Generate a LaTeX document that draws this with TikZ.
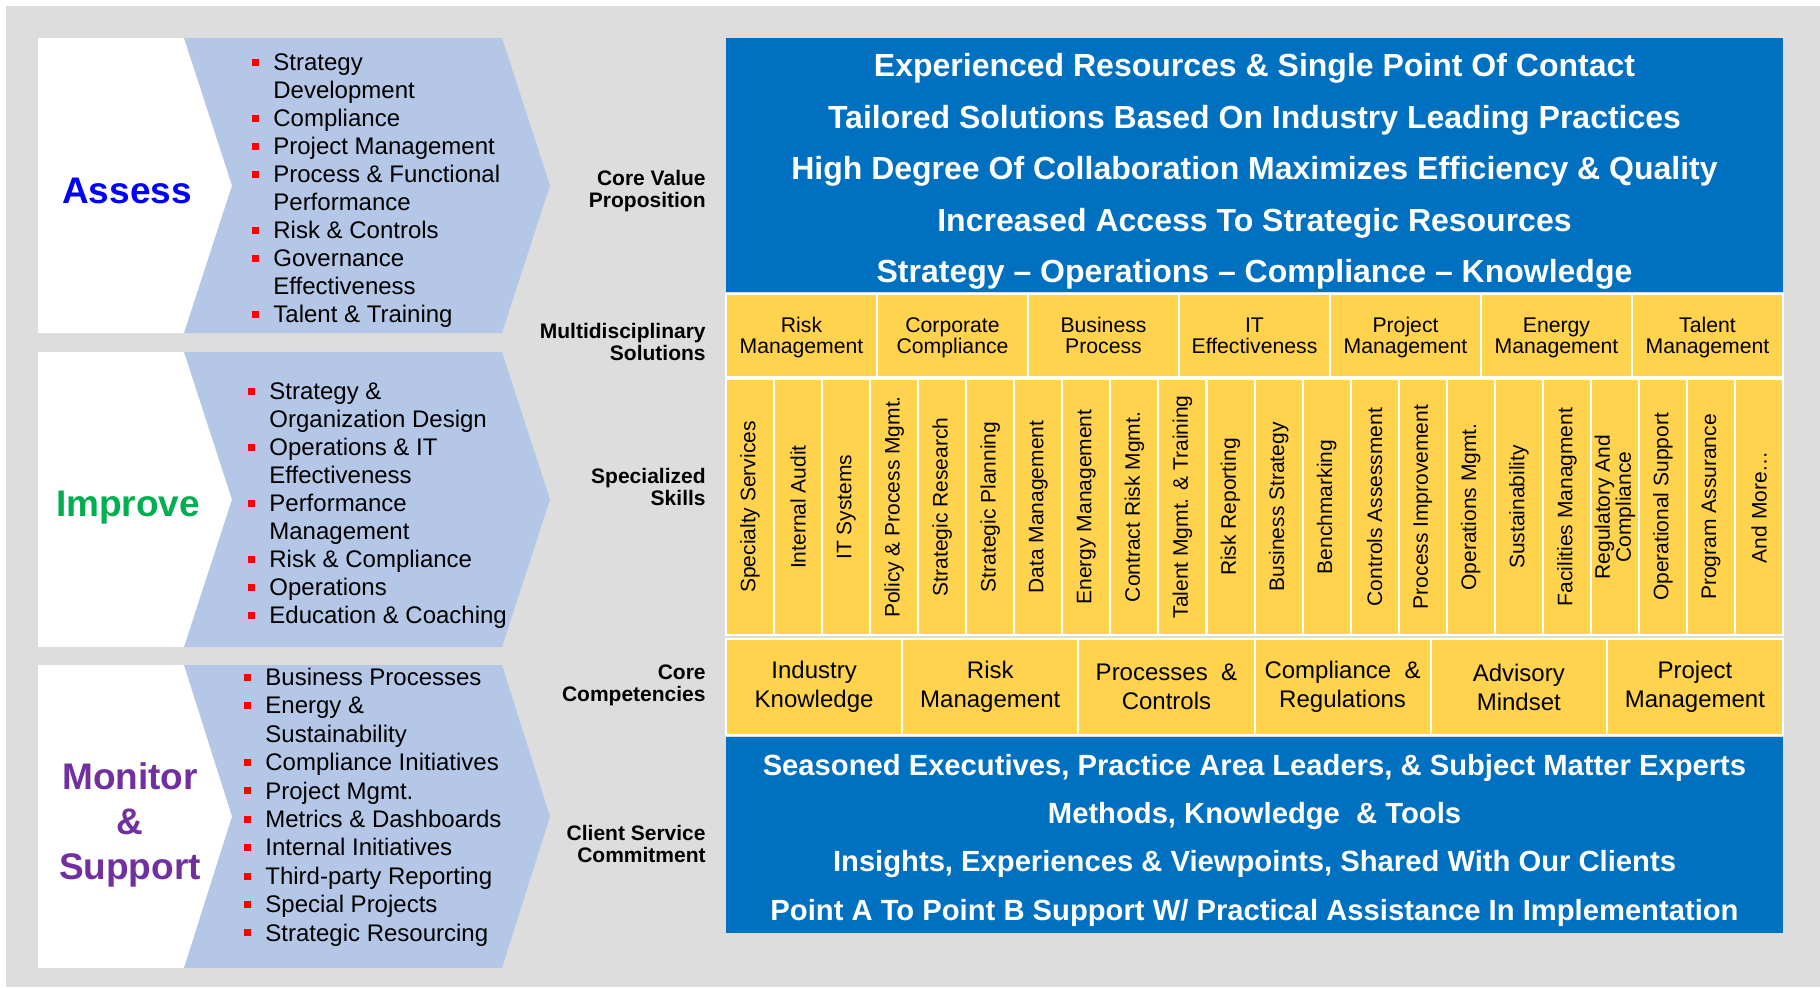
\documentclass[tikz,border=0pt]{standalone}
\usepackage{fontspec}
\setmainfont{Liberation Sans}

\definecolor{bggray}{HTML}{DDDDDD}
\definecolor{chevblue}{HTML}{B4C7E7}
\definecolor{valueblue}{HTML}{0070C0}
\definecolor{cellyellow}{HTML}{FFD34D}
\definecolor{assessblue}{HTML}{0000FF}
\definecolor{improvegreen}{HTML}{00B050}
\definecolor{monitorpurple}{HTML}{7030A0}
\definecolor{bulletred}{HTML}{FF0000}

\newcommand{\bul}{\llap{\textcolor{bulletred}{\rule[2.3pt]{3.5pt}{3.5pt}}\hspace{7pt}}}

\begin{document}
\begin{tikzpicture}[x=0.5pt, y=-0.5pt,
		phase/.style={font=\bfseries\fontsize{18.5pt}{22.5pt}\selectfont, align=center, inner sep=0pt},
		itemlist/.style={anchor=west, align=left, inner sep=0pt, font=\fontsize{12pt}{14pt}\selectfont},
		sidelabel/.style={anchor=east, align=right, inner sep=0pt, font=\bfseries\fontsize{10.5pt}{11pt}\selectfont},
		cellbox/.style={draw=white, line width=1pt, fill=cellyellow, inner sep=0pt, align=center},
		bluetext/.style={text=white, align=center, inner sep=0pt}]

		\useasboundingbox (0,0) rectangle (1820,987);
		\fill[white] (0,0) rectangle (1820,987);
		\fill[bggray] (6,6) rectangle (1820,987);

		% left chevrons
		\foreach \ya/\yb in {38/333, 352/647, 665/968} {
			\pgfmathsetmacro{\ym}{(\ya+\yb)/2}
			\fill[white] (38,\ya) rectangle (240,\yb);
			\fill[chevblue] (184,\ya) -- (502,\ya) -- (550,\ym) -- (502,\yb) -- (184,\yb) -- (232,\ym) -- cycle;
		}

		\node[phase, text=assessblue] (assess) at (127,191) {Assess};
		\node[phase, text=improvegreen] (improve) at (128,508) {Improve};
		\node[phase, text=monitorpurple] (monitor) at (130,825) {Monitor\\\&\\Support};

		\node[itemlist] (assesslist) at (273,190.5) {\bul Strategy\\Development\\\bul Compliance\\\bul Project Management\\\bul Process \& Functional\\Performance\\\bul Risk \& Controls\\\bul Governance\\Effectiveness\\\bul Talent \& Training};
		\node[itemlist] (improvelist) at (269,505.5) {\bul Strategy \&\\Organization Design\\\bul Operations \& IT\\Effectiveness\\\bul Performance\\Management\\\bul Risk \& Compliance\\\bul Operations\\\bul Education \& Coaching};
		\node[itemlist, font=\fontsize{12pt}{14.2pt}\selectfont] (monitorlist) at (265,807) {\bul Business Processes\\\bul Energy \&\\Sustainability\\\bul Compliance Initiatives\\\bul Project Mgmt.\\\bul Metrics \& Dashboards\\\bul Internal Initiatives\\\bul Third-party Reporting\\\bul Special Projects\\\bul Strategic Resourcing};

		% row labels
		\node[sidelabel] (valuelabel) at (706,191) {Core Value\\Proposition};
		\node[sidelabel] (sollabel) at (706,342) {Multidisciplinary\\Solutions};
		\node[sidelabel] (skilllabel) at (706,487) {Specialized\\Skills};
		\node[sidelabel] (complabel) at (706,685) {Core\\Competencies};
		\node[sidelabel] (servlabel) at (706,844) {Client Service\\Commitment};

		% value proposition
		\fill[valueblue] (726,38) rectangle (1783,292);
		\node[bluetext, font=\bfseries\fontsize{16pt}{25.8pt}\selectfont] (valuetext) at (1254.5,171.5) {Experienced Resources \& Single Point Of Contact\\Tailored Solutions Based On Industry Leading Practices\\High Degree Of Collaboration Maximizes Efficiency \& Quality\\Increased Access To Strategic Resources\\Strategy -- Operations -- Compliance -- Knowledge};

		% solutions
		\foreach \txt [count=\i from 0] in {Risk\\Management, Corporate\\Compliance, Business\\Process, IT\\Effectiveness, Project\\Management, Energy\\Management, Talent\\Management} {
			\node[cellbox, minimum width=75.5pt, minimum height=41.5pt, font=\fontsize{10.6pt}{10.5pt}\selectfont, text depth=0pt] (sol\i) at ({726+151.0*(\i+0.5)},335.5) {\txt};
		}

		% skills
		\foreach \txt [count=\i from 0] in {Specialty Services, Internal Audit, IT Systems, Policy \& Process Mgmt., Strategic Research, Strategic Planning, Data Management, Energy Management, Contract Risk Mgmt., Talent Mgmt. \& Training, Risk Reporting, Business Strategy, Benchmarking, Controls Assessment, Process Improvement, Operations Mgmt., Sustainability, Facilities Managment, Regulatory And\\Compliance, Operational Support, Program Assurance, And More\ldots} {
			\node[cellbox, rotate=90, minimum width=128pt, minimum height=24.0pt, font=\fontsize{10.5pt}{10.5pt}\selectfont] (skill\i) at ({726+48.05*(\i+0.5)},507) {\txt};
		}

		% competencies
		\foreach \txt [count=\i from 0] in {Industry\\Knowledge, Risk\\Management, Processes~~\&\\Controls, Compliance~~\&\\Regulations, Advisory\\Mindset, Project\\Management} {
			\node[cellbox, minimum width=88.1pt, minimum height=48pt, font=\fontsize{12pt}{14.5pt}\selectfont] (comp\i) at ({726+176.17*(\i+0.5)},687) {\txt};
		}

		% service commitment
		\fill[valueblue] (726,737) rectangle (1783,933);
		\node[bluetext, font=\bfseries\fontsize{14.6pt}{24.15pt}\selectfont] (servtext) at (1254.5,840) {Seasoned Executives, Practice Area Leaders, \& Subject Matter Experts\\Methods, Knowledge~~\& Tools\\Insights, Experiences \& Viewpoints, Shared With Our Clients\\Point A To Point B Support W/ Practical Assistance In Implementation};
	\end{tikzpicture}
\end{document}
